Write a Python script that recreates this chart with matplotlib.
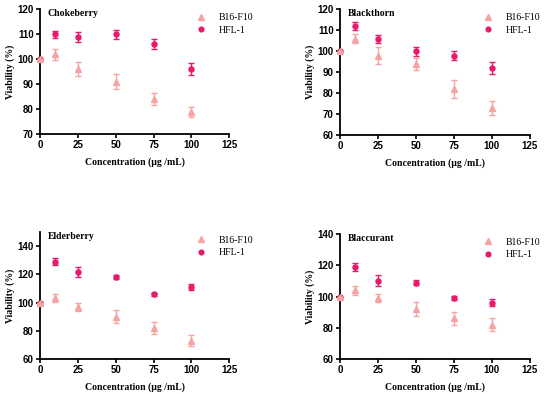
import matplotlib
matplotlib.use("Agg")
import matplotlib.pyplot as plt
from matplotlib.ticker import MultipleLocator
from matplotlib.lines import Line2D

conc = [0, 10, 25, 50, 75, 100]

titles = ["Chokeberry", "Blackthorn", "Elderberry", "Blaccurant"]

b16_vals = [
    [100, 102, 96, 91, 84, 79],
    [100, 106, 98, 94, 82, 73],
    [100, 103, 97, 90, 82, 73],
    [100, 104, 99, 92, 86, 82],
]
b16_err = [
    [0, 2.2, 2.8, 3.0, 2.5, 2.0],
    [0, 2.2, 4.0, 3.0, 4.5, 3.5],
    [0, 2.8, 2.8, 4.5, 4.0, 4.0],
    [0, 3.0, 2.8, 4.5, 4.0, 4.0],
]
hfl_vals = [
    [100, 110, 109, 110, 106, 96],
    [100, 112, 106, 100, 98, 92],
    [100, 129, 122, 118, 106, 111],
    [100, 119, 110, 109, 99, 96],
]
hfl_err = [
    [0, 1.3, 2.0, 1.8, 2.0, 2.5],
    [0, 2.0, 2.0, 2.0, 2.0, 2.8],
    [0, 2.5, 3.5, 1.5, 1.0, 2.0],
    [0, 2.5, 3.5, 1.5, 1.5, 2.2],
]
ylims = [(70, 120), (60, 120), (60, 150), (60, 140)]
ysteps = [10, 10, 20, 20]
ymaxtick = [120, 120, 140, 140]

c_b16 = "#F5A3A3"
c_hfl = "#E8196B"

fig = plt.figure(figsize=(5.5, 3.94), dpi=100)
positions = [
    [0.0727, 0.660, 0.344, 0.316],
    [0.618, 0.657, 0.345, 0.319],
    [0.0727, 0.0888, 0.344, 0.322],
    [0.618, 0.0888, 0.345, 0.317],
]
leg_x = [0.78, 0.71, 0.78, 0.71]

serif = ["Liberation Serif", "DejaVu Serif"]
sans = ["Liberation Sans", "DejaVu Sans"]

for i in range(4):
    ax = fig.add_axes(positions[i])
    ax.errorbar(conc, b16_vals[i], yerr=b16_err[i], fmt="^", color=c_b16,
                ms=4, capsize=2.2, elinewidth=1.0, capthick=1.0,
                zorder=3, clip_on=False)
    ax.errorbar(conc, hfl_vals[i], yerr=hfl_err[i], fmt="o", color=c_hfl,
                ms=3.6, capsize=2.2, elinewidth=1.0, capthick=1.0,
                zorder=2, clip_on=False)
    ax.set_xlim(0, 125)
    ax.set_ylim(*ylims[i])
    ax.xaxis.set_major_locator(MultipleLocator(25))
    ax.set_yticks(list(range(ylims[i][0], ymaxtick[i] + 1, ysteps[i])))
    for s in ["top", "right"]:
        ax.spines[s].set_visible(False)
    for s in ["left", "bottom"]:
        ax.spines[s].set_linewidth(1.3)
    ax.tick_params(direction="out", length=3, width=1.2, pad=1.5)
    for lab in ax.get_xticklabels() + ax.get_yticklabels():
        lab.set_family(sans)
        lab.set_fontweight("bold")
        lab.set_fontsize(7)
    ax.set_xlabel("Concentration (μg /mL)", family=serif, fontweight="bold",
                  fontsize=7, labelpad=5)
    ax.set_ylabel("Viability (%)", family=serif, fontweight="bold",
                  fontsize=7, labelpad=2)
    ax.text(0.04, 1.0, titles[i], transform=ax.transAxes, va="top",
            ha="left", family=serif, fontweight="bold", fontsize=7)
    handles = [
        Line2D([], [], ls="none", marker="^", color=c_b16, ms=3.8),
        Line2D([], [], ls="none", marker="o", color=c_hfl, ms=3.4),
    ]
    ax.legend(handles, ["B16-F10", "HFL-1"], loc="upper left",
              bbox_to_anchor=(leg_x[i], 1.04), frameon=False,
              prop={"family": serif, "size": 7},
              handletextpad=1.3, labelspacing=0.35, handlelength=1.0)

fig.savefig("out.png", dpi=100)
